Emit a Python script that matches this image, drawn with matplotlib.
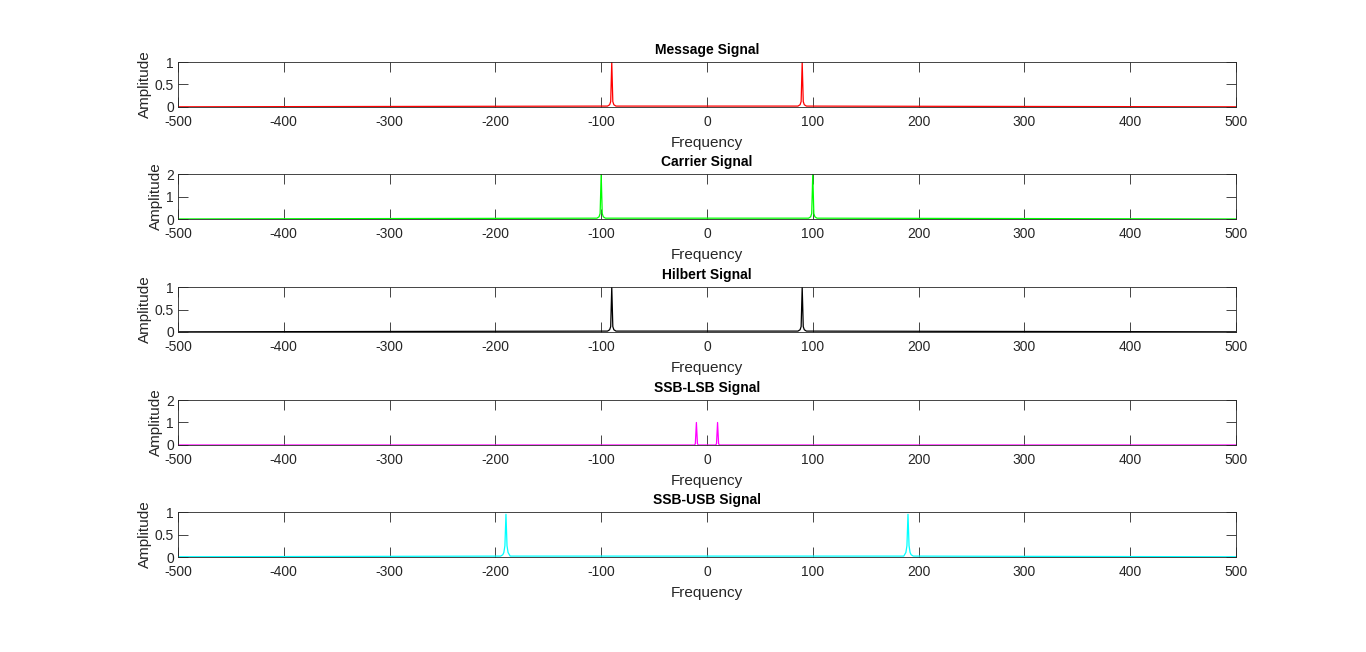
import matplotlib.pyplot as plt
import numpy as np

plt.rcParams['font.family'] = ['Liberation Sans', 'DejaVu Sans']
plt.rcParams['axes.unicode_minus'] = False

# Spektrum verileri (resimden okunan tepe noktalari)
message_freq = [-500, -94, -92, -91, -90, -89, -88, -86, 86, 88, 89, 90, 91, 92, 94, 500]
message_amp = [0.004, 0.02, 0.05, 0.12, 1.0, 0.12, 0.05, 0.02, 0.02, 0.05, 0.12, 1.0, 0.12, 0.05, 0.02, 0.004]

carrier_freq = [-500, -104, -102, -101, -100, -99, -98, -96, 96, 98, 99, 100, 101, 102, 104, 500]
carrier_amp = [0.005, 0.04, 0.1, 0.25, 2.0, 0.25, 0.1, 0.04, 0.04, 0.1, 0.25, 2.0, 0.25, 0.1, 0.04, 0.005]

hilbert_freq = [-500, -94, -92, -91, -90, -89, -88, -86, 86, 88, 89, 90, 91, 92, 94, 500]
hilbert_amp = [0.004, 0.02, 0.05, 0.12, 1.0, 0.12, 0.05, 0.02, 0.02, 0.05, 0.12, 1.0, 0.12, 0.05, 0.02, 0.004]

lsb_freq = [-500, -12, -11, -10, -9, -8, 8, 9, 10, 11, 12, 500]
lsb_amp = [0.0, 0.0, 0.05, 1.0, 0.05, 0.0, 0.0, 0.05, 1.0, 0.05, 0.0, 0.0]

usb_freq = [-500, -195, -193, -192, -191, -190, -189, -188, -186, 186, 188, 189, 190, 191, 192, 193, 195, 500]
usb_amp = [0.005, 0.02, 0.05, 0.1, 0.25, 0.95, 0.25, 0.1, 0.02, 0.02, 0.1, 0.25, 0.95, 0.25, 0.1, 0.05, 0.02, 0.005]

titles = ['Message Signal', 'Carrier Signal', 'Hilbert Signal', 'SSB-LSB Signal', 'SSB-USB Signal']
colors = ['#ff0000', '#00ff00', '#000000', '#ff00ff', '#00ffff']
y_limits = [1, 2, 1, 2, 1]
y_ticks = [[0, 0.5, 1], [0, 1, 2], [0, 0.5, 1], [0, 1, 2], [0, 0.5, 1]]
x_ticks = [-500, -400, -300, -200, -100, 0, 100, 200, 300, 400, 500]

series = [(message_freq, message_amp), (carrier_freq, carrier_amp),
          (hilbert_freq, hilbert_amp), (lsb_freq, lsb_amp), (usb_freq, usb_amp)]

fig = plt.figure(figsize=(13.66, 6.52), dpi=100)
bottoms = [0.8359, 0.664, 0.4908, 0.3175, 0.1457]
axis_color = '#262626'

for i in range(5):
    ax = fig.add_axes([0.1303, bottoms[i], 0.7745, 0.069])
    f, a = series[i]
    ax.plot(f, a, color=colors[i], linewidth=0.9)
    ax.set_xlim(-500, 500)
    ax.set_ylim(0, y_limits[i])
    ax.set_xticks(x_ticks)
    ax.set_xticklabels([str(v) for v in x_ticks])
    ax.set_yticks(y_ticks[i])
    ax.set_yticklabels([('%g' % v) for v in y_ticks[i]])
    ax.tick_params(direction='in', length=7, width=0.6, top=True, right=True,
                   labelsize=10, colors=axis_color)
    ax.tick_params(axis='x', pad=6)
    ax.tick_params(axis='y', pad=3)
    for s in ax.spines.values():
        s.set_color(axis_color)
        s.set_linewidth(0.6)
    ax.set_title(titles[i], fontsize=10, fontweight='bold', pad=6)
    ax.set_xlabel('Frequency', fontsize=11, color=axis_color, labelpad=5)
    ax.set_ylabel('Amplitude', fontsize=11, color=axis_color, labelpad=2)

fig.savefig('out.png', dpi=100)
